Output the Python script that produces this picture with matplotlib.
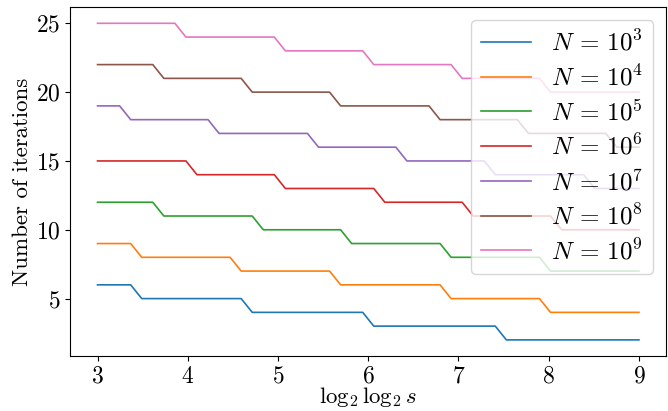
import numpy as np
import matplotlib
matplotlib.use("Agg")
import matplotlib.pyplot as plt

plt.rcParams['mathtext.fontset'] = 'cm'
plt.rcParams['font.family'] = 'serif'
plt.rcParams['font.serif'] = ['cmr10', 'DejaVu Serif']
plt.rcParams['axes.formatter.use_mathtext'] = True

# x grid: log2 log2 s, 50 samples from 3 to 9
x = np.linspace(3, 9, 50)

labels = [r'$N\,=\,10^3$', r'$N\,=\,10^4$', r'$N\,=\,10^5$', r'$N\,=\,10^6$',
          r'$N\,=\,10^7$', r'$N\,=\,10^8$', r'$N\,=\,10^9$']

# (value, count) runs
runs_1e3 = [(6, 4), (5, 10), (4, 11), (3, 12), (2, 13)]
runs_1e4 = [(9, 4), (8, 9), (7, 9), (6, 10), (5, 9), (4, 9)]
runs_1e5 = [(12, 6), (11, 9), (10, 8), (9, 9), (8, 9), (7, 9)]
runs_1e6 = [(15, 9), (14, 8), (13, 9), (12, 8), (11, 8), (10, 8)]
runs_1e7 = [(19, 3), (18, 8), (17, 9), (16, 8), (15, 8), (14, 9), (13, 5)]
runs_1e8 = [(22, 6), (21, 8), (20, 8), (19, 9), (18, 8), (17, 8), (16, 3)]
runs_1e9 = [(25, 8), (24, 9), (23, 8), (22, 8), (21, 8), (20, 9)]

all_runs = [runs_1e3, runs_1e4, runs_1e5, runs_1e6, runs_1e7, runs_1e8, runs_1e9]

fig = plt.figure(figsize=(6.68, 4.11), dpi=100)
ax = fig.add_axes([0.1055, 0.1345, 0.8915, 0.8473])

for runs, lab in zip(all_runs, labels):
    y = []
    for v, c in runs:
        y += [v] * c
    ax.plot(x, y, label=lab, lw=1.2)

ax.set_xticks([3, 4, 5, 6, 7, 8, 9])
ax.set_yticks([5, 10, 15, 20, 25])
ax.tick_params(labelsize=17)
ax.set_xlabel(r'$\log_2 \log_2 s$', fontsize=16.5, labelpad=-1.5)
ax.set_ylabel('Number of iterations', fontsize=16.5, labelpad=3)
ax.legend(loc='upper right', fontsize=18, labelspacing=0.36)

fig.savefig('out.png', dpi=100)
